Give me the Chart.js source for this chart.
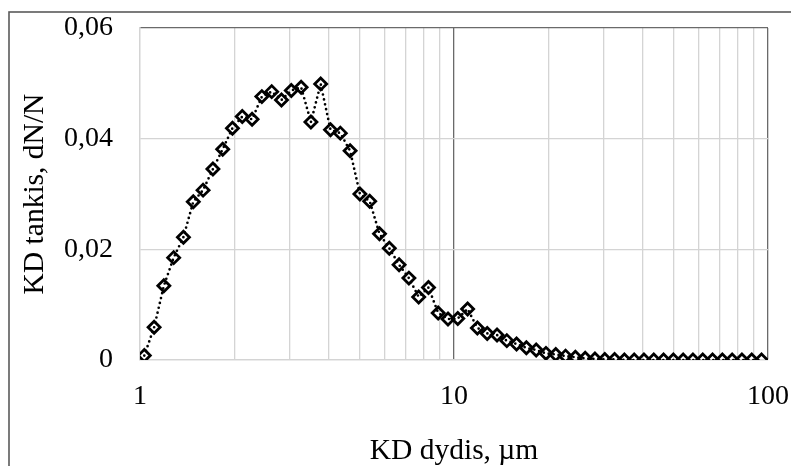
<!DOCTYPE html>
<html>
<head>
<meta charset="utf-8">
<script src="https://cdn.jsdelivr.net/npm/chart.js@4/dist/chart.umd.min.js"></script>
<style>
  html, body { margin: 0; padding: 0; background: #fff; }
  canvas { display: block; }
</style>
</head>
<body>
<canvas id="chart" width="791" height="466"></canvas>
<script>
// particle size (um)
const sizes = [1.032, 1.109, 1.191, 1.280, 1.375, 1.478, 1.588, 1.707, 1.834, 1.970,
    2.117, 2.275, 2.444, 2.627, 2.822, 3.033, 3.259, 3.502, 3.762, 4.043,
    4.344, 4.668, 5.016, 5.389, 5.791, 6.222, 6.686, 7.184, 7.719, 8.294,
    8.905, 9.570, 10.28, 11.05, 11.87, 12.76, 13.71, 14.73, 15.82, 17.00,
    18.27, 19.63, 21.09, 22.66, 24.35, 26.17, 28.11, 30.21, 32.46, 34.88,
    37.48, 40.27, 43.27, 46.49, 49.95, 53.67, 57.67, 61.97, 66.58, 71.54,
    76.87, 82.60, 88.75, 95.35];
// dN/N
const density = [0.0008, 0.0059, 0.0134, 0.0185, 0.0222, 0.0286, 0.0307, 0.0345, 0.0381, 0.0419,
    0.0440, 0.0435, 0.0476, 0.0485, 0.0470, 0.0487, 0.0493, 0.0430, 0.0499, 0.0416,
    0.0410, 0.0378, 0.0300, 0.0287, 0.0228, 0.0202, 0.0172, 0.0148, 0.0114, 0.0131,
    0.0085, 0.0074, 0.0075, 0.0092, 0.0058, 0.0048, 0.0045, 0.0035, 0.0029, 0.0022,
    0.0018, 0.0012, 0.0010, 0.0007, 0.0005, 0.0003, 0.0002, 0.0001, 0.0001, 0,
    0, 0, 0, 0, 0, 0, 0, 0, 0, 0,
    0, 0, 0, 0];

const xGridValues = [1, 2, 3, 4, 5, 6, 7, 8, 9, 10, 20, 30, 40, 50, 60, 70, 80, 90, 100];
const xLabelValues = [1, 10, 100];
const yTickLabels = ['0', '0,02', '0,04', '0,06'];

const xTitle = 'KD dydis, µm';
const yTitle = 'KD tankis, dN/N';

const light = '#d4d4d4';
const dark = '#6a6a6a';
const serif = "'Liberation Serif', 'Times New Roman', serif";

const frame = {
    id: 'frame',
    beforeDraw(chart) {
        const c = chart.ctx;
        c.save();
        c.strokeStyle = '#5a5a5a';
        c.lineWidth = 1.6;
        c.strokeRect(9, 12, 900, 600);
        c.restore();
    }
};

// keep the plot box where it is, labels may overhang
function noPad(scale) {
    scale.paddingTop = 0;
    scale.paddingBottom = 0;
    scale.paddingLeft = 0;
    scale.paddingRight = 0;
}

const points = sizes.map((s, i) => ({ x: s, y: density[i] }));

new Chart(document.getElementById('chart'), {
    type: 'scatter',
    data: {
        datasets: [{
            data: points,
            showLine: true,
            borderColor: '#000',
            borderWidth: 2.7,
            borderDash: [0, 5],
            borderCapStyle: 'round',
            tension: 0,
            pointStyle: 'rectRot',
            pointRadius: 6,
            pointBorderWidth: 2.8,
            pointBorderColor: '#000',
            pointBackgroundColor: 'rgba(0,0,0,0)'
        }]
    },
    options: {
        responsive: false,
        animation: false,
        layout: { padding: { top: 28, right: 23, left: 0, bottom: 0 } },
        plugins: {
            legend: { display: false },
            tooltip: { enabled: false }
        },
        scales: {
            x: {
                type: 'logarithmic',
                min: 1,
                max: 100,
                afterBuildTicks: scale => {
                    scale.ticks = xGridValues.map(v => ({ value: v }));
                },
                afterFit: scale => { scale.height = 106; noPad(scale); },
                ticks: {
                    autoSkip: false,
                    maxRotation: 0,
                    padding: 20,
                    color: '#000',
                    font: { family: serif, size: 28 },
                    callback: value => xLabelValues.includes(value) ? String(value) : ''
                },
                grid: {
                    drawTicks: false,
                    lineWidth: 1.3,
                    color: ctx => (ctx.tick && (ctx.tick.value === 10 || ctx.tick.value === 100)) ? dark : light
                },
                border: { color: light, width: 1.3 },
                title: {
                    display: true,
                    text: xTitle,
                    color: '#000',
                    font: { family: serif, size: 29.5, lineHeight: 1 },
                    padding: { top: 0, bottom: 0 }
                }
            },
            y: {
                min: 0,
                max: 0.06,
                afterFit: scale => { scale.width = 140; noPad(scale); },
                ticks: {
                    stepSize: 0.02,
                    padding: 27,
                    color: '#000',
                    font: { family: serif, size: 28 },
                    callback: (value, index) => yTickLabels[index]
                },
                grid: {
                    drawTicks: false,
                    lineWidth: 1.3,
                    color: ctx => (ctx.index === yTickLabels.length - 1) ? dark : light
                },
                border: { color: light, width: 1.3 },
                title: {
                    display: true,
                    text: yTitle,
                    color: '#000',
                    font: { family: serif, size: 29.5 },
                    padding: { top: 17.5, bottom: 0 }
                }
            }
        }
    },
    plugins: [frame]
});
</script>
</body>
</html>
